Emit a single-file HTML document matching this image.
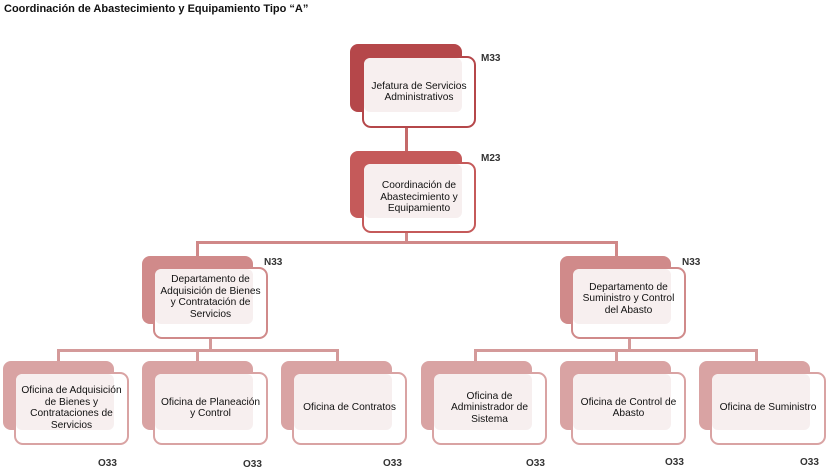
<!DOCTYPE html>
<html><head><meta charset="utf-8"><style>
body{margin:0;width:836px;height:472px;background:#fff;position:relative;overflow:hidden;font-family:"Liberation Sans",sans-serif}
.a{position:absolute}
.b{position:absolute;border-radius:8px}
.f{position:absolute;border-radius:9px;background:#fff;box-sizing:border-box;border:2.5px solid}
.o{position:absolute;background:#f7efef;border-radius:6px}
.t{position:absolute;display:flex;align-items:center;justify-content:center;text-align:center;font-size:10.2px;line-height:11.5px;color:#111}
.l{position:absolute;font-size:10px;font-weight:bold;color:#333}
.ln{position:absolute;background:#d49a9a}
</style></head><body>
<div class="a" style="left:4px;top:3px;font-size:11px;font-weight:bold;color:#111">Coordinación de Abastecimiento y Equipamiento Tipo “A”</div>

<!-- connectors -->
<div class="ln" style="left:405px;top:126px;width:3px;height:26px;background:#c46a6a"></div>
<div class="ln" style="left:405px;top:231px;width:3px;height:12px;background:#d08888"></div>
<div class="ln" style="left:196px;top:241px;width:422px;height:3px;background:#d08888"></div>
<div class="ln" style="left:196px;top:241px;width:3px;height:16px;background:#d08888"></div>
<div class="ln" style="left:615px;top:241px;width:3px;height:16px;background:#d08888"></div>

<div class="ln" style="left:209px;top:337px;width:3px;height:14px"></div>
<div class="ln" style="left:57px;top:349px;width:282px;height:3px"></div>
<div class="ln" style="left:57px;top:349px;width:3px;height:13px"></div>
<div class="ln" style="left:196px;top:349px;width:3px;height:13px"></div>
<div class="ln" style="left:336px;top:349px;width:3px;height:13px"></div>

<div class="ln" style="left:628px;top:337px;width:3px;height:14px"></div>
<div class="ln" style="left:474px;top:349px;width:284px;height:3px"></div>
<div class="ln" style="left:474px;top:349px;width:3px;height:13px"></div>
<div class="ln" style="left:615px;top:349px;width:3px;height:13px"></div>
<div class="ln" style="left:755px;top:349px;width:3px;height:13px"></div>

<!-- Node helper pattern: back(x,y), front(x+12,y+12) -->
<!-- M33 -->
<div class="b" style="left:350px;top:44px;width:112px;height:68px;background:#b5474a"></div>
<div class="f" style="left:362px;top:56px;width:114px;height:72px;border-color:#b5474a"></div>
<div class="o" style="left:364px;top:58px;width:98px;height:54px"></div>
<div class="t" style="left:362px;top:56px;width:114px;height:72px">Jefatura de Servicios<br>Administrativos</div>
<div class="l" style="left:481px;top:53px">M33</div>

<!-- M23 -->
<div class="b" style="left:350px;top:151px;width:112px;height:67px;background:#c55a5a"></div>
<div class="f" style="left:362px;top:162px;width:114px;height:71px;border-color:#c55a5a"></div>
<div class="o" style="left:364px;top:164px;width:98px;height:54px"></div>
<div class="t" style="left:362px;top:162px;width:114px;height:71px">Coordinación de<br>Abastecimiento y<br>Equipamiento</div>
<div class="l" style="left:481px;top:153px">M23</div>

<!-- N33 left -->
<div class="b" style="left:142px;top:256px;width:111px;height:68px;background:#d08a8a"></div>
<div class="f" style="left:153px;top:267px;width:115px;height:72px;border-color:#d08a8a"></div>
<div class="o" style="left:155px;top:269px;width:98px;height:55px"></div>
<div class="t" style="left:153px;top:267px;width:115px;height:60px">Departamento de<br>Adquisición de Bienes<br>y Contratación de<br>Servicios</div>
<div class="l" style="left:264px;top:257px">N33</div>

<!-- N33 right -->
<div class="b" style="left:560px;top:256px;width:111px;height:68px;background:#d08a8a"></div>
<div class="f" style="left:571px;top:267px;width:115px;height:72px;border-color:#d08a8a"></div>
<div class="o" style="left:573px;top:269px;width:98px;height:55px"></div>
<div class="t" style="left:571px;top:267px;width:115px;height:64px">Departamento de<br>Suministro y Control<br>del Abasto</div>
<div class="l" style="left:682px;top:257px">N33</div>

<!-- O33 row -->
<div class="b" style="left:3px;top:361px;width:111px;height:69px;background:#d9a3a3"></div>
<div class="f" style="left:14px;top:372px;width:115px;height:73px;border-color:#d9a3a3"></div>
<div class="o" style="left:16px;top:374px;width:98px;height:56px"></div>
<div class="t" style="left:14px;top:372px;width:115px;height:72px">Oficina de Adquisición<br>de Bienes y<br>Contrataciones de<br>Servicios</div>
<div class="l" style="left:98px;top:458px">O33</div>

<div class="b" style="left:142px;top:361px;width:111px;height:69px;background:#d9a3a3"></div>
<div class="f" style="left:153px;top:372px;width:115px;height:73px;border-color:#d9a3a3"></div>
<div class="o" style="left:155px;top:374px;width:98px;height:56px"></div>
<div class="t" style="left:153px;top:372px;width:115px;height:72px">Oficina de Planeación<br>y Control</div>
<div class="l" style="left:243px;top:459px">O33</div>

<div class="b" style="left:281px;top:361px;width:111px;height:69px;background:#d9a3a3"></div>
<div class="f" style="left:292px;top:372px;width:115px;height:73px;border-color:#d9a3a3"></div>
<div class="o" style="left:294px;top:374px;width:98px;height:56px"></div>
<div class="t" style="left:292px;top:372px;width:115px;height:72px">Oficina de Contratos</div>
<div class="l" style="left:383px;top:458px">O33</div>

<div class="b" style="left:421px;top:361px;width:111px;height:69px;background:#d9a3a3"></div>
<div class="f" style="left:432px;top:372px;width:115px;height:73px;border-color:#d9a3a3"></div>
<div class="o" style="left:434px;top:374px;width:98px;height:56px"></div>
<div class="t" style="left:432px;top:372px;width:115px;height:72px">Oficina de<br>Administrador de<br>Sistema</div>
<div class="l" style="left:526px;top:458px">O33</div>

<div class="b" style="left:560px;top:361px;width:111px;height:69px;background:#d9a3a3"></div>
<div class="f" style="left:571px;top:372px;width:115px;height:73px;border-color:#d9a3a3"></div>
<div class="o" style="left:573px;top:374px;width:98px;height:56px"></div>
<div class="t" style="left:571px;top:372px;width:115px;height:72px">Oficina de Control de<br>Abasto</div>
<div class="l" style="left:665px;top:457px">O33</div>

<div class="b" style="left:699px;top:361px;width:111px;height:69px;background:#d9a3a3"></div>
<div class="f" style="left:710px;top:372px;width:116px;height:73px;border-color:#d9a3a3"></div>
<div class="o" style="left:712px;top:374px;width:98px;height:56px"></div>
<div class="t" style="left:710px;top:372px;width:116px;height:72px">Oficina de Suministro</div>
<div class="l" style="left:800px;top:457px">O33</div>
</body></html>
